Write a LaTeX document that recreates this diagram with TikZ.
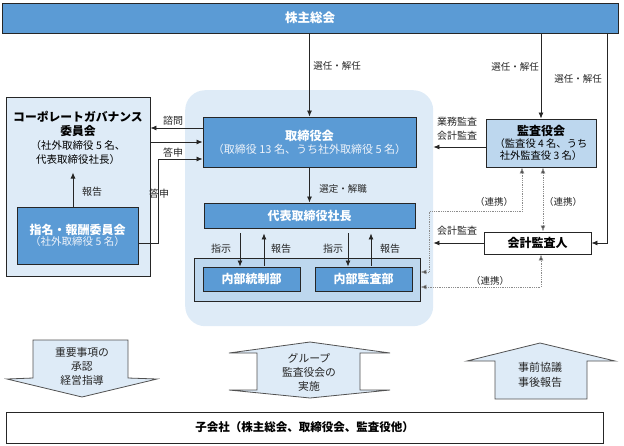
\documentclass[tikz,border=0pt]{standalone}
\usepackage{fontspec}
\setmainfont{Noto Sans CJK JP}
\usetikzlibrary{arrows.meta,calc}
\definecolor{dblue}{HTML}{5B9BD5}
\definecolor{lblue}{HTML}{DEEBF7}
\definecolor{mblue}{HTML}{BDD7EE}
\definecolor{bord}{HTML}{262626}
\definecolor{dotc}{HTML}{8C8C8C}
\definecolor{subw}{HTML}{EEF3FA}
\begin{document}
\begin{tikzpicture}[x=1pt,y=-1pt,
  every node/.style={inner sep=0pt},
  dbox/.style={draw=bord, line width=0.9pt, fill=dblue, text=white, align=center},
  lbox/.style={draw=bord, line width=0.9pt, fill=mblue, align=center},
  wbox/.style={draw=bord, line width=0.9pt, fill=white, align=center},
  ttl/.style={font=\bfseries\fontsize{12}{14}\selectfont},
  lab/.style={font=\fontsize{9.5}{11}\selectfont, text=bord},
  labb/.style={font=\fontsize{10}{11}\selectfont, text=bord},
  arr/.style={draw=bord, line width=0.8pt, -{Latex[length=6pt,width=5pt]}},
  link/.style={draw=dotc, line width=0.8pt, densely dotted, {Latex[length=6pt,width=5pt,fill=bord]}-{Latex[length=6pt,width=5pt,fill=bord]}},
  bigarrow/.style={draw=bord!80, line width=0.8pt, fill=lblue},
  bigtext/.style={align=center, font=\fontsize{10.8}{14}\selectfont, text=bord},
]
\useasboundingbox (0,0) rectangle (624,445);

% shaded board region
\node[fill=lblue, rounded corners=20pt, minimum width=248pt, minimum height=236pt, anchor=north west] (region) at (185,90) {};

% top
\node[dbox, minimum width=616pt, minimum height=30pt, font=\bfseries\fontsize{12.5}{14}\selectfont] (top) at (310,18) {株主総会};

% corporate governance committee
\node[draw=bord, line width=0.9pt, fill=lblue, minimum width=144pt, minimum height=179pt] (cg) at (78,186.5) {};
\node[align=center, font=\bfseries\fontsize{11.8}{14}\selectfont] (cgt1) at (78,124) {コーポレートガバナンス\\委員会};
\node[align=center, font=\fontsize{10.5}{13.5}\selectfont] (cgt2) at (78,152.5) {（社外取締役 5 名、\\代表取締役社長）};

\node[dbox, minimum width=121pt, minimum height=57pt] (nom) at (77.5,235.5)
  {{\bfseries\fontsize{12}{14}\selectfont 指名・報酬委員会}\\[-1pt]{\color{subw}\fontsize{10.5}{13}\selectfont （社外取締役 5 名）}};

% board
\node[dbox, minimum width=213pt, minimum height=50pt] (tb) at (309.5,142)
  {{\bfseries\fontsize{12.2}{14}\selectfont 取締役会}\\[1pt]{\color{subw}\fontsize{11}{13}\selectfont （取締役 13 名、うち社外取締役 5 名）}};

\node[dbox, ttl, minimum width=211pt, minimum height=25pt] (pres) at (309.5,215.5) {代表取締役社長};

\node[lbox, minimum width=226pt, minimum height=43pt] (inner) at (307,279.5) {};
\node[dbox, ttl, minimum width=97pt, minimum height=24pt] (ic) at (251.5,279) {内部統制部};
\node[dbox, ttl, minimum width=97pt, minimum height=24pt] (ia) at (363.5,279) {内部監査部};

% auditors
\node[lbox, minimum width=110pt, minimum height=48pt] (ka) at (541,143)
  {{\bfseries\fontsize{12}{14}\selectfont 監査役会}\\{\fontsize{10.3}{13.5}\selectfont （監査役 4 名、うち}\\{\fontsize{10.3}{13.5}\selectfont 社外監査役 3 名）}};
\node[wbox, ttl, minimum width=107pt, minimum height=22pt] (kk) at (537.5,243) {会計監査人};

% subsidiaries
\node[wbox, minimum width=597pt, minimum height=31pt, font=\bfseries\fontsize{11.5}{14}\selectfont] (sub) at (304.5,427.5) {子会社（株主総会、取締役会、監査役他）};

% helper coordinates
\coordinate (a1) at ($(tb.west)+(0,-14)$);
\coordinate (a2) at ($(ka.west)+(0,4)$);
\coordinate (a3) at ($(tb.west)+(0,17)$);

% connectors
\draw[arr] (tb.north |- top.south) -- (tb.north);
\node[lab] (l1) at (337,66) {選任・解任};
\draw[arr] (ka.north |- top.south) -- (ka.north);
\node[lab] (l2) at (515,67) {選任・解任};
\draw[arr] ([xshift=16pt]kk.east |- top.south) |- (kk.east);
\node[lab] (l3) at (578,79) {選任・解任};

\draw[arr] (tb.south) -- (pres.north);
\node[lab] (l4) at (343,189) {選定・解職};

\draw[arr] (a1) -- (a1 -| cg.east);
\node[labb] (l5) at (173,121) {諮問};
\draw[arr] (tb.west -| cg.east) -- (tb.west);
\node[labb] (l6) at (173,153) {答申};
\draw[arr] ($(nom.east)+(0,7.5)$) -- ++(20,0) |- (a3);
\node[labb] (l7) at (159,194) {答申};

\draw[arr] ($(nom.north)+(-4.5,0)$) -- ++(0,-34);
\node[labb] (l8) at (92,192) {報告};

% pres <-> departments
\draw[arr] ($(ic.north |- pres.south)+(-11.5,5)$) -- ($(ic.north)+(-11.5,0)$);
\draw[arr] ($(ic.north)+(12.5,-1)$) -- ($(ic.north |- pres.south)+(12.5,5)$);
\node[labb] (l9) at (221,249) {指示};
\node[labb] (l10) at (281,249) {報告};
\draw[arr] ($(ia.north |- pres.south)+(-15.5,5)$) -- ($(ia.north)+(-15.5,0)$);
\draw[arr] ($(ia.north)+(7.5,-1)$) -- ($(ia.north |- pres.south)+(7.5,5)$);
\node[labb] (l11) at (333,249) {指示};
\node[labb] (l12) at (390,249) {報告};

% audits
\draw[arr] (a2) -- (a2 -| region.east);
\node[labb, align=center, font=\fontsize{10}{14}\selectfont] (l13) at (457,129) {業務監査\\会計監査};
\draw[arr] (kk.west) -- (kk.west -| region.east);
\node[labb] (l14) at (457,231) {会計監査};

% cooperation (dotted)
\draw[link] ($(inner.east)+(0,-7.5)$) -- ++(9,0) |- ($(ka.south)+(-19,44)$) -- ($(ka.south)+(-19,0)$);
\node[lab] (l15) at (494,202) {（連携）};
\coordinate (d2) at ($(ka.south)+(2,0)$);
\draw[link] (d2) -- (d2 |- kk.north);
\node[lab] (l16) at (563,202) {（連携）};
\draw[link] ($(inner.east)+(0,7.5)$) -| ($(kk.south)+(3.5,0)$);
\node[lab] (l17) at (490,281) {（連携）};

% big arrows
\draw[bigarrow] (33,340) -- (128,340) -- (128,378) -- (157,379) -- (82,397) -- (7,379) -- (33,378) -- cycle;
\node[bigtext] (ba1) at (82,366) {重要事項の\\承認\\経営指導};

\draw[bigarrow] (310,342) -- (390,353) -- (360,353) -- (360,390) -- (390,390) -- (310,398) -- (229,390) -- (257,390) -- (257,353) -- (229,353) -- cycle;
\node[bigtext] (ba2) at (309,372) {グループ\\監査役会の\\実施};

\draw[bigarrow] (540,343) -- (615,361) -- (587,361) -- (587,399) -- (495,399) -- (495,361) -- (467,361) -- cycle;
\node[bigtext, font=\fontsize{11}{15}\selectfont] (ba3) at (540,375) {事前協議\\事後報告};
\end{tikzpicture}
\end{document}
